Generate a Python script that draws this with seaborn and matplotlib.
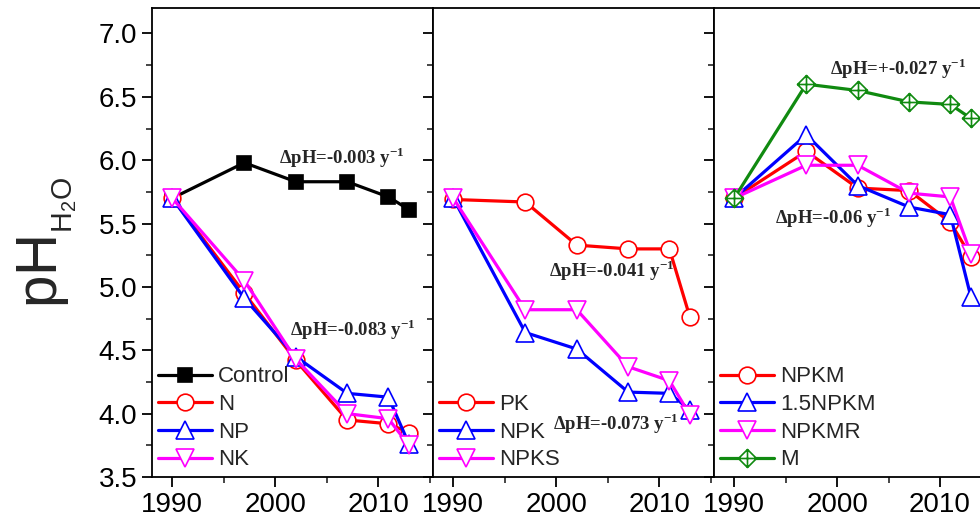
import pandas as pd
import matplotlib.pyplot as plt
from matplotlib.path import Path
from matplotlib.ticker import MultipleLocator
import seaborn as sns

# sampling years (same for every treatment)
years = [1990, 1997, 2002, 2007, 2011, 2013]

# panel 1
control = [5.70, 5.98, 5.83, 5.83, 5.71, 5.61]
n_only = [5.70, 4.95, 4.42, 3.95, 3.92, 3.85]
np_ = [5.70, 4.91, 4.45, 4.16, 4.13, 3.76]
nk = [5.70, 5.05, 4.43, 4.00, 3.96, 3.75]

# panel 2
pk = [5.69, 5.67, 5.33, 5.30, 5.30, 4.76]
npk = [5.70, 4.64, 4.51, 4.17, 4.16, 4.03]
npks = [5.70, 4.82, 4.82, 4.37, 4.26, 3.99]

# panel 3
npkm = [5.70, 6.07, 5.78, 5.76, 5.51, 5.24]
npkm15 = [5.70, 6.20, 5.80, 5.63, 5.57, 4.92]
npkmr = [5.70, 5.96, 5.96, 5.74, 5.71, 5.26]
manure = [5.70, 6.60, 6.55, 6.46, 6.44, 6.33]

xticks = [1990, 2000, 2010]
yticks = [3.5, 4.0, 4.5, 5.0, 5.5, 6.0, 6.5, 7.0]

notes = [
    (0, 2000.4, 6.02, "\u0394pH=-0.003 y$^{\\mathregular{-1}}$"),
    (0, 2001.4, 4.66, "\u0394pH=-0.083 y$^{\\mathregular{-1}}$"),
    (1, 1999.3, 5.13, "\u0394pH=-0.041 y$^{\\mathregular{-1}}$"),
    (1, 1999.7, 3.92, "\u0394pH=-0.073 y$^{\\mathregular{-1}}$"),
    (2, 1999.3, 6.72, "\u0394pH=+-0.027 y$^{\\mathregular{-1}}$"),
    (2, 1994.0, 5.55, "\u0394pH=-0.06 y$^{\\mathregular{-1}}$"),
]

sns.set_style("ticks")
plt.rcParams['font.family'] = ['Liberation Sans', 'DejaVu Sans']
plt.rcParams['axes.linewidth'] = 1.3

RED, BLUE, MAG, GREEN = "#ff0000", "#0000ff", "#ff00ff", "#108a10"

# diamond with a cross through it
crossed_diamond = Path(
    [(0, 1), (1, 0), (0, -1), (-1, 0), (0, 1), (0, 1), (0, -1), (-1, 0), (1, 0)],
    [Path.MOVETO, Path.LINETO, Path.LINETO, Path.LINETO, Path.CLOSEPOLY,
     Path.MOVETO, Path.LINETO, Path.MOVETO, Path.LINETO])

panels = [
    [("Control", control, "black", "s", 10, "black"),
     ("N", n_only, RED, "o", 12, "white"),
     ("NP", np_, BLUE, "^", 13, "white"),
     ("NK", nk, MAG, "v", 13, "white")],
    [("PK", pk, RED, "o", 12, "white"),
     ("NPK", npk, BLUE, "^", 13, "white"),
     ("NPKS", npks, MAG, "v", 13, "white")],
    [("NPKM", npkm, RED, "o", 12, "white"),
     ("1.5NPKM", npkm15, BLUE, "^", 13, "white"),
     ("NPKMR", npkmr, MAG, "v", 13, "white"),
     ("M", manure, GREEN, crossed_diamond, 13, "white")],
]

fig = plt.figure(figsize=(9.8, 5.31), dpi=100)
left0, bottom, width, height = 0.1548, 0.1017, 0.2867, 0.883
axes = [fig.add_axes([left0 + i * width, bottom, width, height]) for i in range(3)]

for i, (ax, series) in enumerate(zip(axes, panels)):
    for label, vals, color, marker, ms, face in series:
        df = pd.DataFrame({"year": years, "pH": vals})
        sns.lineplot(data=df, x="year", y="pH", ax=ax, color=color, lw=2.3,
                     marker=marker, markersize=ms, markerfacecolor=face,
                     markeredgecolor=color, markeredgewidth=1.2, label=label)
    ax.set_xlim(1988, 2015.3)
    ax.set_ylim(3.5, 7.2)
    ax.set_xticks(xticks)
    ax.xaxis.set_minor_locator(MultipleLocator(5))
    ax.set_yticks(yticks)
    ax.yaxis.set_minor_locator(MultipleLocator(0.25))
    ax.tick_params(axis="both", which="major", direction="out", length=7,
                   width=1.3, labelsize=20, colors="black")
    ax.tick_params(axis="both", which="minor", direction="out", length=4, width=1.2)
    ax.set_xlabel("")
    for sp in ax.spines.values():
        sp.set_visible(True)
        sp.set_color("black")
    if i == 0:
        ax.set_ylabel(r"$\mathregular{pH_{{}_{H_2O}}}$", fontsize=42, labelpad=14)
    else:
        ax.set_ylabel("")
        ax.tick_params(axis="y", labelleft=False)
    ax.legend(loc="lower left", frameon=False, fontsize=16, handlelength=2.4,
              handletextpad=0.3, labelspacing=0.3, borderaxespad=0.1,
              borderpad=0.2)

for i, x, y, txt in notes:
    axes[i].text(x, y, txt, ha="left", va="center", fontsize=13.5,
                 fontfamily="Liberation Serif", fontweight="bold")

fig.savefig("out.png", dpi=100)
